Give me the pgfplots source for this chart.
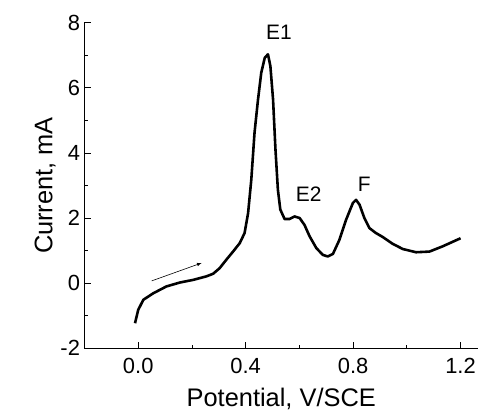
\documentclass[border=0pt]{standalone}
\usepackage{pgfplots}
\pgfplotsset{compat=1.18}
\usepackage{fontspec}
\setmainfont{Liberation Sans}

\pgfplotstableread{
x y
-0.012 -1.23
0.000 -0.82
0.019 -0.51
0.056 -0.31
0.105 -0.10
0.155 0.02
0.204 0.10
0.254 0.21
0.279 0.29
0.303 0.46
0.328 0.72
0.353 0.97
0.378 1.23
0.396 1.54
0.409 2.15
0.421 3.18
0.433 4.62
0.446 5.64
0.458 6.46
0.471 6.92
0.483 7.03
0.492 6.67
0.502 5.64
0.511 4.10
0.520 2.87
0.529 2.26
0.545 1.97
0.563 1.97
0.582 2.05
0.601 2.00
0.619 1.79
0.638 1.44
0.663 1.08
0.687 0.87
0.706 0.82
0.725 0.90
0.749 1.33
0.774 1.95
0.799 2.46
0.811 2.56
0.824 2.41
0.842 2.00
0.861 1.69
0.885 1.54
0.910 1.42
0.947 1.21
0.985 1.05
1.034 0.95
1.084 0.97
1.133 1.13
1.200 1.38
}\scan

\begin{document}
\begin{tikzpicture}
\begin{axis}[
    scale only axis,
    width=393.5bp,
    height=325.6bp,
    xmin=-0.2, xmax=1.265,
    ymin=-2, ymax=8,
    axis lines=left,
    axis line style={-, line width=0.8pt},
    xtick={0,0.4,0.8,1.2},
    minor xtick={0.2,0.6,1.0},
    ytick={-2,0,2,4,6,8},
    minor ytick={-1,1,3,5,7},
    tick align=inside,
    major tick length=6bp,
    minor tick length=3.5bp,
    tick style={black, line width=0.8pt},
    /pgf/number format/assume math mode=true,
    ticklabel style={font=\fontsize{22}{22}\selectfont},
    xticklabel style={/pgf/number format/fixed, /pgf/number format/fixed zerofill,
        /pgf/number format/precision=1, yshift=-6bp},
    yticklabel style={xshift=-1bp},
    xlabel={Potential, V/SCE},
    ylabel={Current, mA},
    label style={font=\fontsize{25.5}{25.5}\selectfont},
    xlabel style={yshift=-8bp},
    ylabel style={yshift=-2bp},
    clip=false,
]
\addplot[black, line width=2.6pt, line join=round] table {\scan};
\draw[-latex, line width=0.6pt] (axis cs:0.05,0.07) -- (axis cs:0.236,0.62);
\node[font=\fontsize{21}{21}\selectfont] at (axis cs:0.524,7.69) {E1};
\node[font=\fontsize{21}{21}\selectfont] at (axis cs:0.635,2.74) {E2};
\node[font=\fontsize{21}{21}\selectfont] at (axis cs:0.842,3.03) {F};
\end{axis}
\pgfresetboundingbox
\path[use as bounding box] (-84.5bp,-66.7bp) rectangle (394.5bp,348.3bp);
\end{tikzpicture}
\end{document}
